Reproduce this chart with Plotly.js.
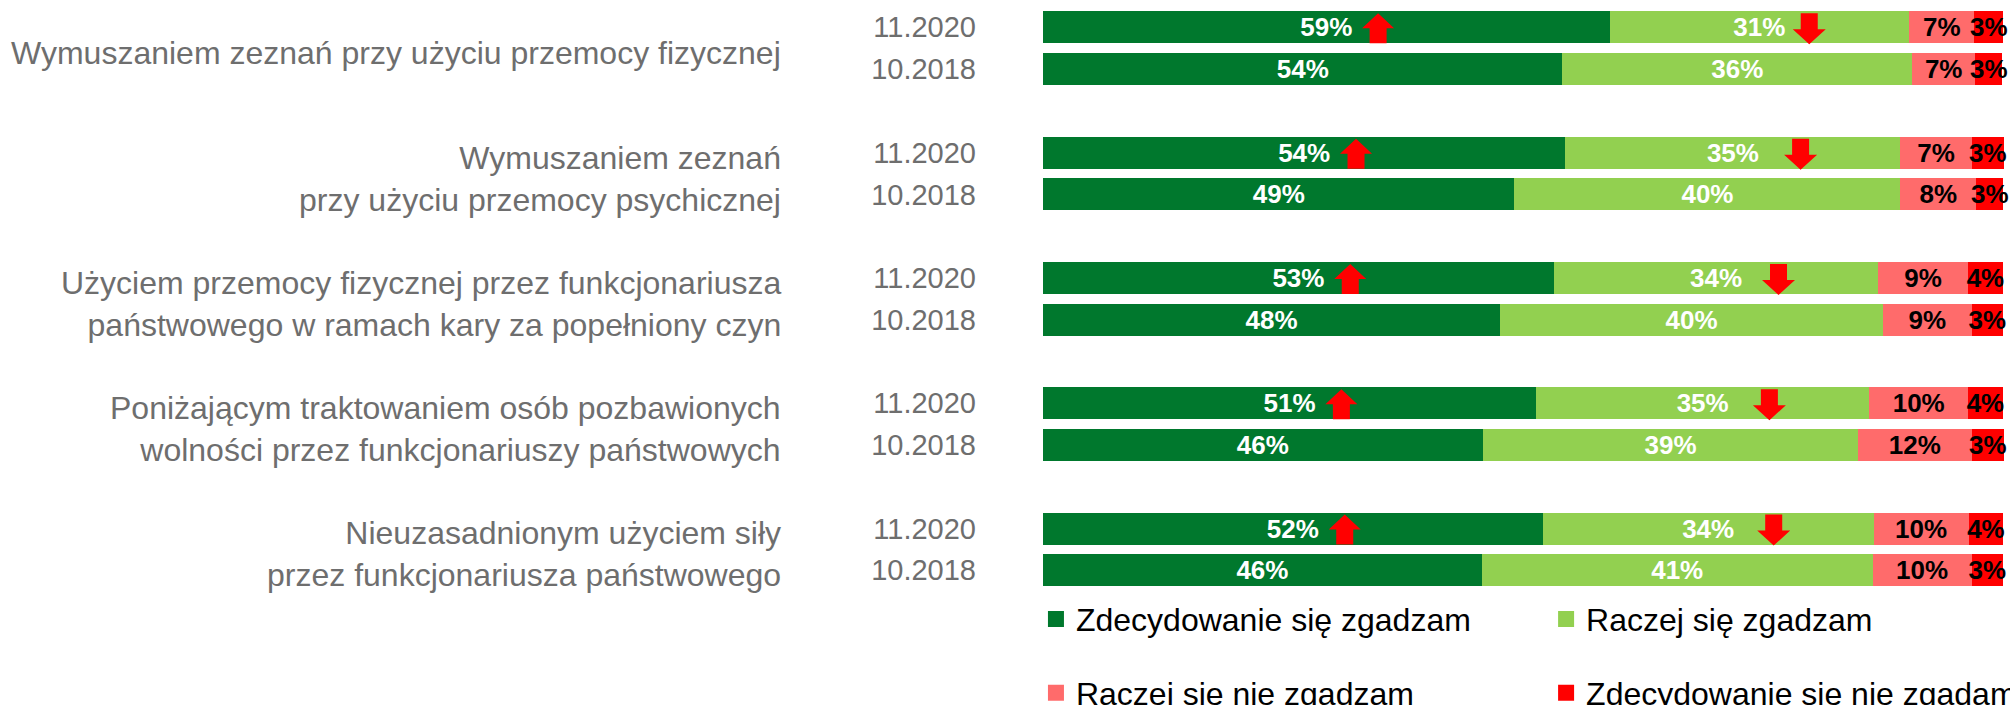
<!DOCTYPE html>
<html>
<head>
<meta charset="utf-8">
<script src="https://cdn.plot.ly/plotly-3.0.1.min.js"></script>
<style>
  html, body { margin: 0; padding: 0; background: #ffffff; }
  #chart { width: 2010px; height: 705px; }
</style>
</head>
<body>
<div id="chart"></div>
<script>
// ---------- data ----------
const groupLabels = [
  'Wymuszaniem zeznań przy użyciu przemocy fizycznej',
  'Wymuszaniem zeznań<br>przy użyciu przemocy psychicznej',
  'Użyciem przemocy fizycznej przez funkcjonariusza<br>państwowego w ramach kary za popełniony czyn',
  'Poniżającym traktowaniem osób pozbawionych<br>wolności przez funkcjonariuszy państwowych',
  'Nieuzasadnionym użyciem siły<br>przez funkcjonariusza państwowego'
];
const periods = ['11.2020', '10.2018'];
const seriesNames = [
  'Zdecydowanie się zgadzam',
  'Raczej się zgadzam',
  'Raczej się nie zgadzam',
  'Zdecydowanie się nie zgadam'
];

const strongAgree2020    = [59.0, 54.4, 53.2, 51.35, 52.05];
const agree2020          = [31.2, 34.9, 33.8, 34.7, 34.45];
const disagree2020       = [6.8, 7.4, 9.3, 10.3, 9.9];
const strongDisagree2020 = [3.0, 3.4, 3.7, 3.6, 3.6];

const strongAgree2018    = [54.1, 49.1, 47.6, 45.8, 45.7];
const agree2018          = [36.4, 40.2, 39.9, 39.1, 40.7];
const disagree2018       = [6.6, 7.9, 9.2, 11.8, 10.3];
const strongDisagree2018 = [2.8, 2.8, 3.3, 3.4, 3.3];

// ---------- styling ----------
const FONT = 'Liberation Sans, Arial, sans-serif';
const GRAY = '#6e6e6e';
const seriesColors = ['#00782D', '#92D050', '#FF6B6B', '#FF0000'];
const textColors = ['#ffffff', '#ffffff', '#000000', '#000000'];

// ---------- build ----------
const rowPos = [];
const rowText = [];
groupLabels.forEach((_, g) => periods.forEach((p, r) => { rowPos.push(g * 3 + r); rowText.push(p); }));

function interleave(a, b) { const out = []; a.forEach((v, i) => out.push(v, b[i])); return out; }
const seriesValues = [
  interleave(strongAgree2020, strongAgree2018),
  interleave(agree2020, agree2018),
  interleave(disagree2020, disagree2018),
  interleave(strongDisagree2020, strongDisagree2018)
];

const barTraces = seriesValues.map((vals, i) => ({
  type: 'bar',
  orientation: 'h',
  x: vals,
  y: rowPos,
  width: 0.766,
  name: seriesNames[i],
  marker: { color: seriesColors[i], line: { width: 0 } },
  text: vals.map(v => Math.round(v) + '%'),
  textposition: 'inside',
  insidetextanchor: 'middle',
  textangle: 0,
  constraintext: 'none',
  insidetextfont: { family: FONT, size: 26, color: textColors[i], weight: 'bold' },
  cliponaxis: false,
  showlegend: false,
  hoverinfo: 'skip'
}));

// one legend per entry, laid out as a 2x2 grid
const legendIds = ['legend', 'legend2', 'legend3', 'legend4'];
const legendTraces = seriesNames.map((n, i) => ({
  type: 'scatter',
  mode: 'markers',
  x: [null],
  y: [null],
  name: n,
  marker: { symbol: 'square', size: 16, color: seriesColors[i] },
  legend: legendIds[i],
  showlegend: true,
  hoverinfo: 'skip'
}));

const upArrowPath = 'M0,14 L16,-1 L8.5,-1 L8.5,-16 L-8.5,-16 L-8.5,-1 L-16,-1 Z';
const downArrowPath = 'M-8.5,14 L8.5,14 L8.5,-2 L16.5,-2 L0,-17 L-16.5,-2 L-8.5,-2 Z';

const shapes = [];
strongAgree2020.forEach((v, g) => {
  shapes.push({
    type: 'path', xref: 'x', yref: 'y', xsizemode: 'pixel', ysizemode: 'pixel',
    xanchor: v / 2 + 5.4, yanchor: g * 3, path: upArrowPath,
    fillcolor: '#FF0000', line: { width: 0 }, layer: 'above'
  });
  shapes.push({
    type: 'path', xref: 'x', yref: 'y', xsizemode: 'pixel', ysizemode: 'pixel',
    xanchor: v + agree2020[g] - 10.4, yanchor: g * 3, path: downArrowPath,
    fillcolor: '#FF0000', line: { width: 0 }, layer: 'above'
  });
});

const annotations = groupLabels.map((t, g) => ({
  xref: 'paper', yref: 'y', x: -0.2698, y: g * 3 + 0.5,
  xanchor: 'right', yanchor: 'middle', align: 'right',
  text: t, showarrow: false, yshift: -5,
  font: { family: FONT, size: 32, color: GRAY }
}));

const legendCols = [0.5154, 0.7692];
const legendRows = [0.1607, 0.0562];
function legendAt(col, row) {
  return {
    orientation: 'h', traceorder: 'normal',
    xref: 'container', yref: 'container',
    x: legendCols[col], y: legendRows[row], xanchor: 'left', yanchor: 'top',
    font: { family: FONT, size: 32, color: '#000000' },
    bgcolor: 'rgba(0,0,0,0)', borderwidth: 0, itemclick: false, itemdoubleclick: false
  };
}

const layout = {
  width: 2010,
  height: 705,
  margin: { l: 1043, r: 2, t: 0, b: 0, pad: 0, autoexpand: false },
  paper_bgcolor: '#ffffff',
  plot_bgcolor: '#ffffff',
  barmode: 'stack',
  bargap: 0,
  font: { family: FONT },
  xaxis: { range: [0, 100.5], visible: false, fixedrange: true },
  yaxis: {
    range: [16.224, -0.654],
    tickvals: rowPos,
    ticktext: rowText,
    ticks: '',
    showgrid: false,
    zeroline: false,
    showline: false,
    ticklabelstandoff: 66,
    tickfont: { family: FONT, size: 29, color: GRAY },
    fixedrange: true
  },
  legend: legendAt(0, 0),
  legend2: legendAt(1, 0),
  legend3: legendAt(0, 1),
  legend4: legendAt(1, 1),
  shapes: shapes,
  annotations: annotations
};

Plotly.newPlot('chart', barTraces.concat(legendTraces), layout, { displayModeBar: false, staticPlot: true });
</script>
</body>
</html>
